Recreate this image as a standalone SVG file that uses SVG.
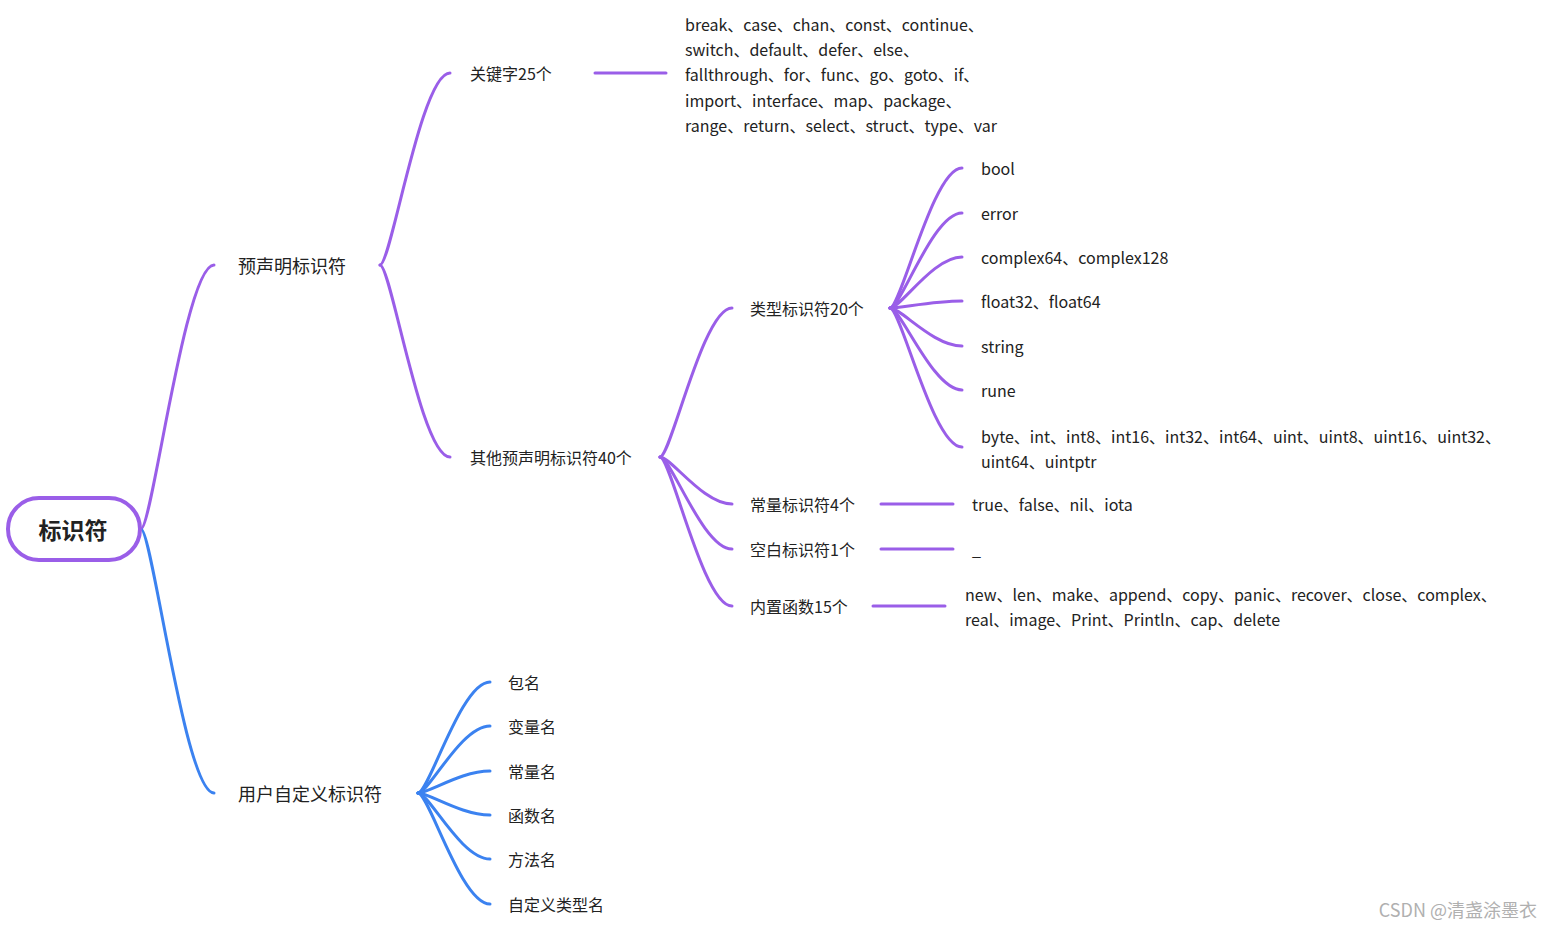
<svg xmlns="http://www.w3.org/2000/svg" width="1553" height="928" viewBox="0 0 1553 928">
<style>
text{font-family:"Noto Sans CJK SC","Noto Sans",sans-serif;font-size:16px;fill:#222;dominant-baseline:central}
.p{fill:none;stroke:#9a5ee8;stroke-width:3;stroke-linecap:round}
.b{fill:none;stroke:#3b82f0;stroke-width:3;stroke-linecap:round}
</style>
<rect width="1553" height="928" fill="#fff"/>
<g id="connectors">
<path class="p" d="M141 529 C152 529 185 265 214 265"/>
<path class="b" d="M141 529 C152 529 185 793 214 793"/>
<path class="p" d="M380 265 C391 265 421 73 450 73"/>
<path class="p" d="M380 265 C391 265 421 457 450 457"/>
<path class="p" d="M595 73 L666 73"/>
<path class="p" d="M660 457 C671 457 703 308 732 308"/>
<path class="p" d="M660 457 C671 457 703 504 732 504"/>
<path class="p" d="M660 457 C671 457 703 549 732 549"/>
<path class="p" d="M660 457 C671 457 703 606 732 606"/>
<path class="p" d="M890 308 C901 308 933 168 962 168"/>
<path class="p" d="M890 308 C901 308 933 213 962 213"/>
<path class="p" d="M890 308 C901 308 933 257 962 257"/>
<path class="p" d="M890 308 C901 308 933 301 962 301"/>
<path class="p" d="M890 308 C901 308 933 346 962 346"/>
<path class="p" d="M890 308 C901 308 933 390 962 390"/>
<path class="p" d="M890 308 C901 308 933 447 962 447"/>
<path class="p" d="M881 504 L953 504"/>
<path class="p" d="M881 549 L953 549"/>
<path class="p" d="M873 606 L945 606"/>
<path class="b" d="M418 793 C429 793 461 682 490 682"/>
<path class="b" d="M418 793 C429 793 461 726 490 726"/>
<path class="b" d="M418 793 C429 793 461 771 490 771"/>
<path class="b" d="M418 793 C429 793 461 815 490 815"/>
<path class="b" d="M418 793 C429 793 461 859 490 859"/>
<path class="b" d="M418 793 C429 793 461 904 490 904"/>
</g>
<g id="root"><rect x="8" y="498" width="132" height="62" rx="31" fill="#fff" stroke="#9a5ee8" stroke-width="4"/><text x="73" y="529" text-anchor="middle" style="font-size:23px;font-weight:bold">标识符</text></g>
<g id="n-predecl"><text x="238" y="265" style="font-size:18px">预声明标识符</text></g>
<g id="n-user"><text x="238" y="793" style="font-size:18px">用户自定义标识符</text></g>
<g id="n-kw"><text x="470" y="73">关键字25个</text></g>
<g id="n-kwlist"><text x="685" y="24">break、case、chan、const、continue、</text><text x="685" y="49">switch、default、defer、else、</text><text x="685" y="74">fallthrough、for、func、go、goto、if、</text><text x="685" y="100">import、interface、map、package、</text><text x="685" y="125">range、return、select、struct、type、var</text></g>
<g id="n-other"><text x="470" y="457">其他预声明标识符40个</text></g>
<g id="n-type"><text x="750" y="308">类型标识符20个</text></g>
<g id="n-bool"><text x="981" y="168">bool</text></g>
<g id="n-error"><text x="981" y="213">error</text></g>
<g id="n-complex"><text x="981" y="257">complex64、complex128</text></g>
<g id="n-float"><text x="981" y="301">float32、float64</text></g>
<g id="n-string"><text x="981" y="346">string</text></g>
<g id="n-rune"><text x="981" y="390">rune</text></g>
<g id="n-ints"><text x="981" y="436">byte、int、int8、int16、int32、int64、uint、uint8、uint16、uint32、</text><text x="981" y="461">uint64、uintptr</text></g>
<g id="n-const"><text x="750" y="504">常量标识符4个</text></g>
<g id="n-constlist"><text x="972" y="504">true、false、nil、iota</text></g>
<g id="n-blank"><text x="750" y="549">空白标识符1个</text></g>
<g id="n-blanklist"><text x="972" y="549">_</text></g>
<g id="n-builtin"><text x="750" y="606">内置函数15个</text></g>
<g id="n-builtinlist"><text x="965" y="594">new、len、make、append、copy、panic、recover、close、complex、</text><text x="965" y="619">real、image、Print、Println、cap、delete</text></g>
<g id="n-u1"><text x="508" y="682">包名</text></g>
<g id="n-u2"><text x="508" y="726">变量名</text></g>
<g id="n-u3"><text x="508" y="771">常量名</text></g>
<g id="n-u4"><text x="508" y="815">函数名</text></g>
<g id="n-u5"><text x="508" y="859">方法名</text></g>
<g id="n-u6"><text x="508" y="904">自定义类型名</text></g>
<text x="1537" y="909" text-anchor="end" style="font-size:18px;fill:#b0b0b0">CSDN @清盏涂墨衣</text>
</svg>
